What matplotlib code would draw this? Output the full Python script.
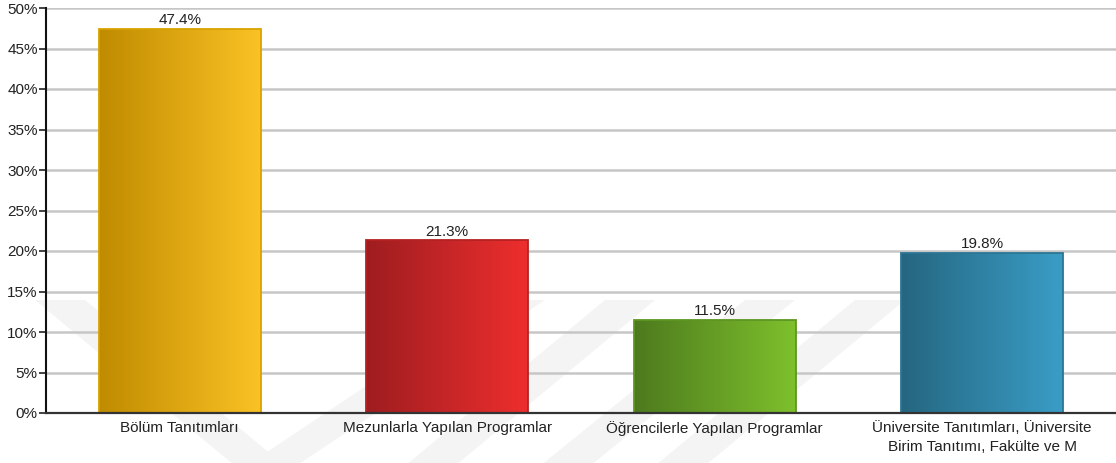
import numpy as np
import matplotlib.pyplot as plt
from matplotlib.colors import LinearSegmentedColormap
from matplotlib.patches import Polygon

plt.rcParams['font.family'] = ['Liberation Sans', 'DejaVu Sans']

categories = ['Bölüm Tanıtımları', 'Mezunlarla Yapılan Programlar',
              'Öğrencilerle Yapılan Programlar',
              'Üniversite Tanıtımları, Üniversite\nBirim Tanıtımı, Fakülte ve M']
values = [47.4, 21.3, 11.5, 19.8]
left_colors = ['#bf8b00', '#9e1d20', '#4d7a1e', '#256680']
right_colors = ['#fbc225', '#ee2e2e', '#7ec02c', '#3a9dc6']
edge_colors = ['#d8a200', '#b52222', '#5e9622', '#2b7594']
yticks = [0, 5, 10, 15, 20, 25, 30, 35, 40, 45, 50]

W, H = 1116, 463
fig = plt.figure(figsize=(W / 100, H / 100), dpi=100)

# faint watermark chevrons behind the chart
wm = '#f4f4f4'
def px(pts):
    return [(x / W, 1 - y / H) for x, y in pts]
shapes = [
    [(35, 300), (85, 300), (290, 470), (240, 470)],
    [(240, 470), (290, 470), (545, 300), (495, 300)],
    [(400, 470), (450, 470), (655, 300), (605, 300)],
    [(535, 470), (585, 470), (795, 300), (745, 300)],
    [(650, 470), (700, 470), (905, 300), (855, 300)],
]
for s in shapes:
    fig.patches.append(Polygon(px(s), closed=True, transform=fig.transFigure,
                               facecolor=wm, edgecolor='none', zorder=0))

ax = fig.add_axes([46 / W, 1 - 413 / H, 1 - 46 / W, (413 - 8) / H])
ax.set_facecolor('none')
ax.set_zorder(2)

x = np.arange(len(categories))
width = 0.605
bars = ax.bar(x, values, width=width, facecolor='none', zorder=3)

grad = np.linspace(0, 1, 256).reshape(1, -1)
for b, c0, c1, ec, v in zip(bars, left_colors, right_colors, edge_colors, values):
    x0, y0 = b.get_x(), b.get_y()
    w, h = b.get_width(), b.get_height()
    cmap = LinearSegmentedColormap.from_list('g', [c0, c1])
    im = ax.imshow(grad, cmap=cmap, aspect='auto', extent=[x0, x0 + w, y0, y0 + h],
                   zorder=2, interpolation='bilinear')
    im.set_clip_path(b)
    b.set_edgecolor(ec)
    b.set_linewidth(1.3)
    ax.text(x0 + w / 2, v + 0.2, f'{v}%', ha='center', va='bottom',
            fontsize=11, color='#222222', zorder=4)

ax.set_xlim(-0.5, len(categories) - 0.5)
ax.set_ylim(0, 50)
ax.set_yticks(yticks)
ax.set_yticklabels([f'{t}%' for t in yticks], fontsize=11, color='#222222')
ax.set_xticks(x)
ax.set_xticklabels(categories, fontsize=11, color='#222222', linespacing=1.45)
ax.tick_params(axis='x', length=0, pad=6)
ax.tick_params(axis='y', length=5, width=1.2, color='#222222', pad=1)

ax.grid(axis='y', color='#c6c6c6', linewidth=1.8, zorder=1)
ax.set_axisbelow(True)
for s in ['top', 'right']:
    ax.spines[s].set_visible(False)
ax.spines['left'].set_linewidth(1.5)
ax.spines['left'].set_color('#111111')
ax.spines['bottom'].set_linewidth(1.6)
ax.spines['bottom'].set_color('#333333')
ax.spines['bottom'].set_zorder(5)

fig.savefig('out.png', dpi=100)
